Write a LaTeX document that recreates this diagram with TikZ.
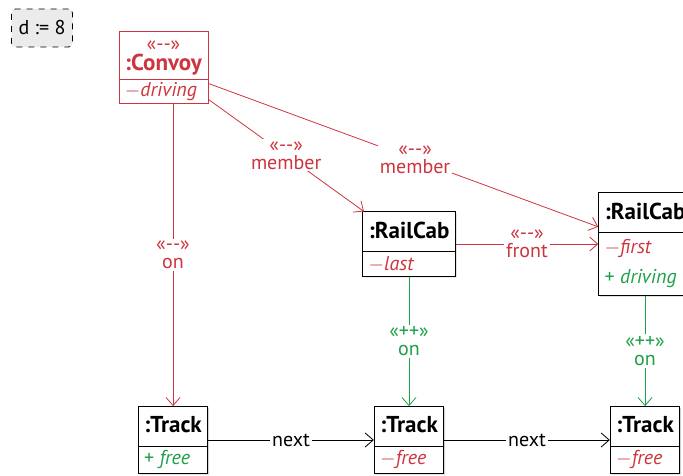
\documentclass[tikz,border=0pt]{standalone}
\usepackage{fontspec}
\setmainfont{PT Sans}
\usetikzlibrary{shapes.multipart,arrows.meta,shadows}
\definecolor{delred}{RGB}{206,52,62}
\definecolor{addgreen}{RGB}{28,160,72}
\tikzset{object/.style={draw, fill=white, rectangle split, rectangle split parts=2,
                        rectangle split part align={center,left},
                        inner xsep=3pt, inner ysep=2pt}}
\tikzset{shadowed/.style={object, drop shadow={shadow xshift=0.6pt,
                          shadow yshift=-0.6pt, opacity=0.35}}}
\newcommand{\objname}[1]{\rule[-4.5pt]{0pt}{15.5pt}{\fontsize{11.5}{13}\selectfont\textbf{#1}}}
\newcommand{\delstereo}{«{-}{-}»}
\newcommand{\addstereo}{«++»}

\begin{document}
\begin{tikzpicture}[x=0.5pt, y=-0.5pt,
      >={Straight Barb[length=4pt,width=7pt]},
      % styles for clarity
      link/.style ={->},
      lbl/.style  ={fill=white, inner sep=1pt, align=center},
      param/.style={draw, dashed, rounded corners=2pt, fill=black!8,
                    minimum width=30.5pt, minimum height=19pt}
    ]
    \clip (0,0) rectangle (683,475);

    % parameter
    \node[param] (d) at (42,28) {d := 8};

    % objects
    \node[object, draw=delred, text=delred, inner ysep=1pt] (convoy) at (163.5,67)
      {\begin{tabular}{@{}c@{}}\delstereo\\[-2pt]{\fontsize{11.5}{13}\selectfont\textbf{:Convoy}}\end{tabular}
       \nodepart{two}$-$\textit{driving}};
    \node[shadowed] (cab1) at (409,244)
      {\objname{:RailCab}\nodepart{two}\color{delred}$-$\textit{last}};
    \node[shadowed] (cab2) at (645,244)
      {\objname{:RailCab}\nodepart{two}\begin{tabular}{@{}l@{}}
         \color{delred}$-$\textit{first}\\[3pt]
         \color{addgreen}+ \textit{driving}\end{tabular}};

    \foreach \x/\attr [count=\i from 1] in {173/{\color{addgreen}+ \textit{free}},
                                           409/{\color{delred}$-$\textit{free}},
                                           645/{\color{delred}$-$\textit{free}}}{
      \node[shadowed] (track\i) at (\x,440) {\objname{:Track}\nodepart{two}\attr};
    }

    % deleted links
    \draw[link, delred] (track1.north |- convoy.south)
      -- node[lbl] {\delstereo\\[-3pt]on} (track1);
    \draw[link, delred] (convoy)
      -- node[lbl] {\delstereo\\[-3pt]member} (cab1);
    \draw[link, delred] (convoy)
      -- node[lbl, pos=0.53] {\delstereo\\[-3pt]member} (cab2);
    \draw[link, delred] (cab1)
      -- node[lbl] {\delstereo\\[-3pt]front} (cab2);

    % created links
    \draw[link, addgreen] (cab1) -- node[lbl] {\addstereo\\[-3pt]on} (track2);
    \draw[link, addgreen] (cab2) -- node[lbl] {\addstereo\\[-3pt]on} (track3);

    % track chain
    \draw[link] (track1) -- node[lbl] {next} (track2);
    \draw[link] (track2) -- node[lbl] {next} (track3);
  \end{tikzpicture}
\end{document}
